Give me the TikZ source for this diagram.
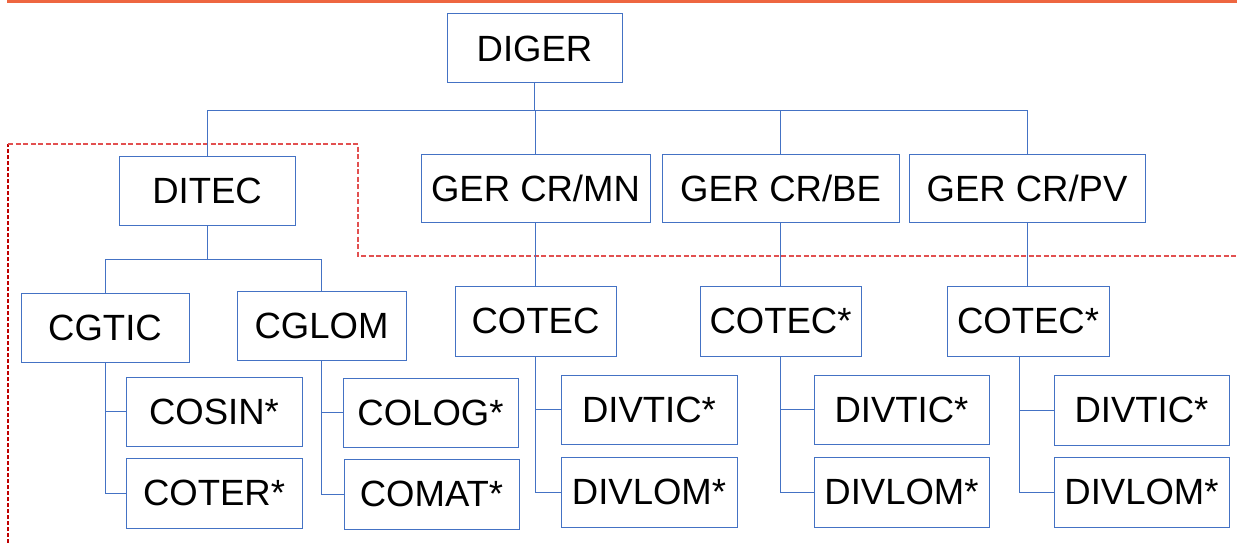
\documentclass[tikz,border=0pt]{standalone}
\usepackage{fontspec}
\setmainfont{Liberation Sans}
\definecolor{boxblue}{RGB}{68,114,196}
\definecolor{barorange}{RGB}{238,102,64}
\definecolor{dashred}{RGB}{226,80,80}
\definecolor{darkred}{RGB}{192,0,0}
\begin{document}
\begin{tikzpicture}[x=1pt,y=-1pt,
  unit/.style={draw=boxblue,line width=1pt,fill=white,inner sep=0pt,
    minimum height=69pt,font=\fontsize{36.5}{42}\selectfont,text=black},
  link/.style={draw=boxblue,line width=0.9pt},
  zone/.style={draw=dashred,line width=1.2pt,dash pattern=on 5pt off 2.5pt},
  zoneedge/.style={draw=darkred,line width=1.1pt,dash pattern=on 4pt off 2pt}]
\useasboundingbox (0,0) rectangle (1237,543);

% top accent bar
\fill[barorange] (7,0) rectangle (1237,3);

% dashed zone outline
\coordinate (zA) at (8,543);
\coordinate (zB) at (8,144);
\coordinate (zC) at (358,144);
\coordinate (zD) at (358,256);
\coordinate (zE) at (1237,256);
\draw[zoneedge] (zA) -- (zB);
\draw[zone] (zB) -- (zC) -- (zD) -- (zE);

% bus levels
\coordinate (busTop) at (0,110);
\coordinate (busDitec) at (0,259);

% boxes
\node[unit,minimum width=175pt] (diger) at (534.5,48.5) {DIGER};
\node[unit,minimum width=176pt] (ditec) at (207,190.5) {DITEC};
\node[unit,minimum width=229pt,minimum height=68pt] (mn) at (535.5,188) {GER CR/MN};
\node[unit,minimum width=237pt,minimum height=68pt] (be) at (780.5,188) {GER CR/BE};
\node[unit,minimum width=236pt,minimum height=68pt] (pv) at (1027,188) {GER CR/PV};

\node[unit,minimum width=168pt] (cgtic) at (105,327.5) {CGTIC};
\node[unit,minimum width=169pt] (cglom) at (321.5,325.5) {CGLOM};
\node[unit,minimum width=176pt] (cosin) at (214,411.5) {COSIN*};
\node[unit,minimum width=176pt,minimum height=70pt] (coter) at (214,493) {COTER*};
\node[unit,minimum width=175pt] (colog) at (430.5,412.5) {COLOG*};
\node[unit,minimum width=175pt,minimum height=70pt] (comat) at (431.5,494) {COMAT*};

\node[unit,minimum width=161pt,minimum height=70pt] (cotecA) at (535.5,321) {COTEC};
\node[unit,minimum width=176pt] (divticA) at (649,409.5) {DIVTIC*};
\node[unit,minimum width=176pt,minimum height=70pt] (divlomA) at (649,492) {DIVLOM*};

\node[unit,minimum width=161pt,minimum height=70pt] (cotecB) at (780.5,321) {COTEC*};
\node[unit,minimum width=175pt] (divticB) at (901.5,409.5) {DIVTIC*};
\node[unit,minimum width=175pt,minimum height=70pt] (divlomB) at (901.5,492) {DIVLOM*};

\node[unit,minimum width=162pt,minimum height=70pt] (cotecC) at (1028,321) {COTEC*};
\node[unit,minimum width=175pt,minimum height=70pt] (divticC) at (1141.5,410) {DIVTIC*};
\node[unit,minimum width=175pt,minimum height=70pt] (divlomC) at (1141.5,492) {DIVLOM*};

% top level connectors
\draw[link] (diger.south) -- (diger.south |- busTop) -| (ditec.north);
\draw[link] (diger.south |- busTop) -| (mn.north);
\draw[link] (diger.south |- busTop) -| (be.north);
\draw[link] (diger.south |- busTop) -| (pv.north);

% DITEC branch
\draw[link] (ditec.south) -- (ditec.south |- busDitec) -| (cgtic.north);
\draw[link] (ditec.south |- busDitec) -| (cglom.north);
\draw[link] (cgtic.south) |- (cosin.west);
\draw[link] (cgtic.south) |- (coter.west);
\draw[link] (cglom.south) |- (colog.west);
\draw[link] (cglom.south) |- (comat.west);

% regional branches
\draw[link] (mn.south) -- (mn.south |- cotecA.north);
\draw[link] (be.south) -- (be.south |- cotecB.north);
\draw[link] (pv.south) -- (pv.south |- cotecC.north);
\draw[link] (cotecA.south) |- (divticA.west);
\draw[link] (cotecA.south) |- (divlomA.west);
\draw[link] (cotecB.south) |- (divticB.west);
\draw[link] (cotecB.south) |- (divlomB.west);
\draw[link] ([xshift=-9pt]cotecC.south) |- (divticC.west);
\draw[link] ([xshift=-9pt]cotecC.south) |- (divlomC.west);
\end{tikzpicture}
\end{document}
